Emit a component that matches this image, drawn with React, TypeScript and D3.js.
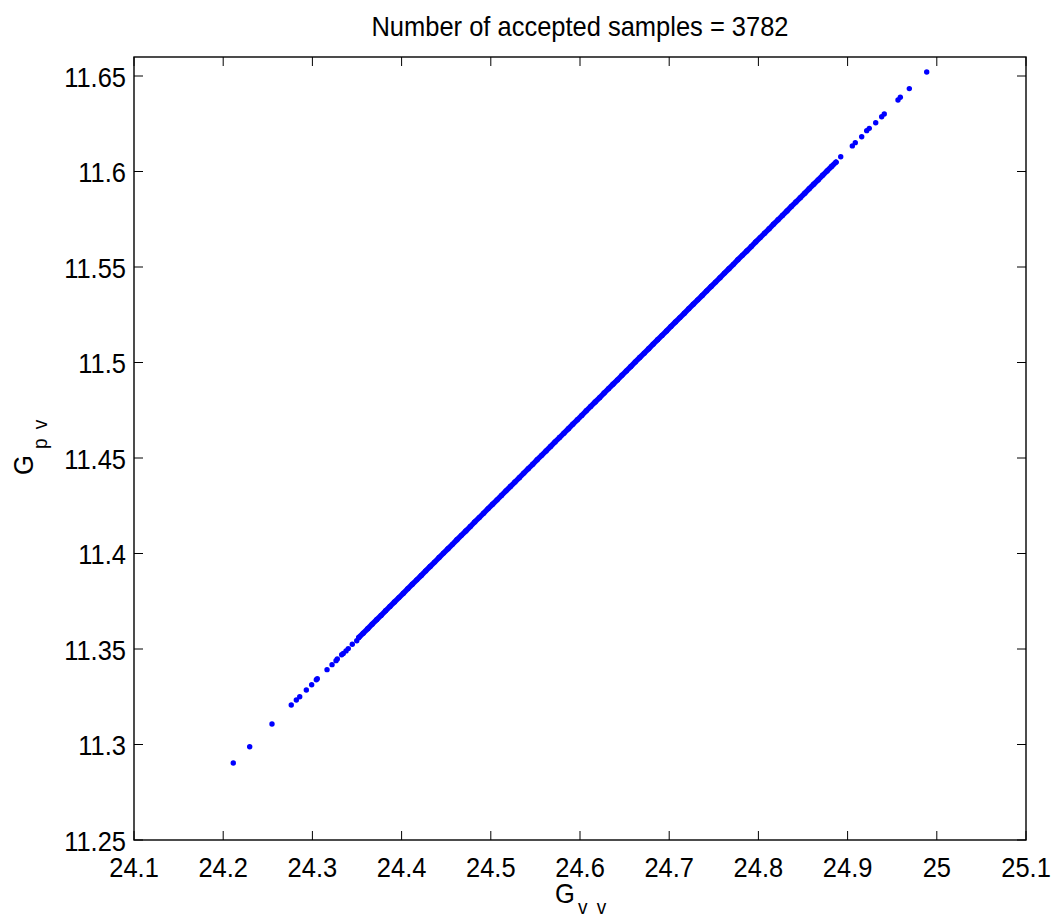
import React from "react";
import * as d3 from "d3";

const TITLE = "Number of accepted samples = 3782";
const xTicks = [24.1, 24.2, 24.3, 24.4, 24.5, 24.6, 24.7, 24.8, 24.9, 25, 25.1];
const xTickLabels = ["24.1", "24.2", "24.3", "24.4", "24.5", "24.6", "24.7", "24.8", "24.9", "25", "25.1"];
const yTicks = [11.25, 11.3, 11.35, 11.4, 11.45, 11.5, 11.55, 11.6, 11.65];
const yTickLabels = ["11.25", "11.3", "11.35", "11.4", "11.45", "11.5", "11.55", "11.6", "11.65"];

// sparse samples at the low end
const lowX = [24.2113, 24.2297, 24.2547, 24.2763, 24.282, 24.2858, 24.2932, 24.2992, 24.3044, 24.3055, 24.3164, 24.322, 24.3265, 24.3279, 24.3328, 24.3346, 24.3377, 24.3402, 24.3447, 24.3497];
const lowY = [11.2903, 11.2988, 11.3107, 11.3207, 11.3233, 11.325, 11.3285, 11.3313, 11.3339, 11.3344, 11.3392, 11.3418, 11.3439, 11.3448, 11.347, 11.3477, 11.349, 11.3502, 11.3525, 11.3543];

// dense band of samples
const denseX = [24.352, 24.357, 24.362, 24.367, 24.372, 24.377, 24.382, 24.387, 24.392, 24.397, 24.402, 24.407, 24.412, 24.417, 24.422, 24.427, 24.432, 24.437, 24.442, 24.447, 24.452, 24.457, 24.462, 24.467, 24.472, 24.477, 24.482, 24.487, 24.492, 24.497, 24.502, 24.507, 24.512, 24.517, 24.522, 24.527, 24.532, 24.537, 24.542, 24.547, 24.552, 24.557, 24.562, 24.567, 24.572, 24.577, 24.582, 24.587, 24.592, 24.597, 24.602, 24.607, 24.612, 24.617, 24.622, 24.627, 24.632, 24.637, 24.642, 24.647, 24.652, 24.657, 24.662, 24.667, 24.672, 24.677, 24.682, 24.687, 24.692, 24.697, 24.702, 24.707, 24.712, 24.717, 24.722, 24.727, 24.732, 24.737, 24.742, 24.747, 24.752, 24.757, 24.762, 24.767, 24.772, 24.777, 24.782, 24.787, 24.792, 24.797, 24.802, 24.807, 24.812, 24.817, 24.822, 24.827, 24.832, 24.837, 24.842, 24.847, 24.852, 24.857, 24.862, 24.867, 24.872, 24.877, 24.882, 24.887];
const denseY = [11.356, 11.3583, 11.3606, 11.363, 11.3653, 11.3676, 11.37, 11.3723, 11.3746, 11.3769, 11.3792, 11.3816, 11.3839, 11.3862, 11.3885, 11.3909, 11.3932, 11.3955, 11.3979, 11.4002, 11.4025, 11.4048, 11.4072, 11.4095, 11.4118, 11.4141, 11.4165, 11.4188, 11.4211, 11.4235, 11.4258, 11.4281, 11.4304, 11.4328, 11.4351, 11.4374, 11.4397, 11.4421, 11.4444, 11.4467, 11.4491, 11.4514, 11.4537, 11.456, 11.4584, 11.4607, 11.463, 11.4653, 11.4677, 11.47, 11.4723, 11.4747, 11.477, 11.4793, 11.4816, 11.484, 11.4863, 11.4886, 11.4909, 11.4933, 11.4956, 11.4979, 11.5003, 11.5026, 11.5049, 11.5072, 11.5096, 11.5119, 11.5142, 11.5165, 11.5189, 11.5212, 11.5235, 11.5258, 11.5282, 11.5305, 11.5328, 11.5351, 11.5375, 11.5398, 11.5421, 11.5444, 11.5468, 11.5491, 11.5514, 11.5538, 11.5561, 11.5584, 11.5607, 11.5631, 11.5654, 11.5677, 11.57, 11.5724, 11.5747, 11.577, 11.5793, 11.5817, 11.584, 11.5863, 11.5886, 11.591, 11.5933, 11.5956, 11.598, 11.6003, 11.6026, 11.6049];

// sparse samples at the high end
const highX = [24.8923, 24.9053, 24.9086, 24.9158, 24.9214, 24.9243, 24.9315, 24.9382, 24.9411, 24.9565, 24.9591, 24.9692, 24.9887];
const highY = [11.6077, 11.6134, 11.6151, 11.6182, 11.6214, 11.6226, 11.6255, 11.6287, 11.6301, 11.6374, 11.6389, 11.6434, 11.6521];

const W = 1054;
const H = 919;
const M = { left: 134, right: 1026, top: 57, bottom: 840 };
const FONT = "'Liberation Sans', Arial, Helvetica, sans-serif";
const BLUE = "#0000ff";
const SY = 1.08;

function Txt(props: { x: number; y: number; size: number; anchor?: string; rotate?: number; children: React.ReactNode; ls?: number }) {
  const { x, y, size, anchor, rotate, children, ls } = props;
  return (
    <text
      transform={`translate(${x},${y})${rotate ? ` rotate(${rotate})` : ""} scale(1,${SY})`}
      textAnchor={anchor || "start"}
      fontSize={size}
      letterSpacing={ls || 0}
      style={{ whiteSpace: "pre" }}
      fill="#000"
    >
      {children}
    </text>
  );
}

export default function App() {
  const x = d3.scaleLinear().domain([24.1, 25.1]).range([M.left, M.right]);
  const y = d3.scaleLinear().domain([11.25, 11.25 + (M.bottom - M.top) / 1910]).range([M.bottom, M.top]);

  const pts = [
    ...lowX.map((v, i) => [v, lowY[i]]),
    ...denseX.map((v, i) => [v, denseY[i]]),
    ...highX.map((v, i) => [v, highY[i]]),
  ];
  const densePts = denseX.map((v, i) => [v, denseY[i]] as [number, number]);
  const bandPath = d3.line<[number, number]>().x((d) => x(d[0])).y((d) => y(d[1]))(densePts) || "";
  const r = 2.7;
  const tickLen = 9;

  return (
    <svg width={W} height={H} style={{ position: "absolute", left: 0, top: 0, background: "#fff" }} fontFamily={FONT}>
      <rect x={0} y={0} width={W} height={H} fill="#fff" />
      {/* samples */}
      <path d={bandPath} fill="none" stroke={BLUE} strokeWidth={r * 2} strokeLinecap="round" />
      {pts.map((d, i) => (
        <circle key={i} cx={x(d[0])} cy={y(d[1])} r={r} fill={BLUE} />
      ))}
      {/* ticks */}
      {xTicks.map((t, i) => (
        <g key={"xt" + i}>
          <line x1={x(t)} x2={x(t)} y1={M.bottom} y2={M.bottom - tickLen} stroke="#000" strokeWidth={1} />
          <line x1={x(t)} x2={x(t)} y1={M.top} y2={M.top + tickLen} stroke="#000" strokeWidth={1} />
          <Txt x={x(t)} y={876.5} size={25.5} anchor="middle">{xTickLabels[i]}</Txt>
        </g>
      ))}
      {yTicks.map((t, i) => (
        <g key={"yt" + i}>
          <line x1={M.left} x2={M.left + tickLen} y1={y(t)} y2={y(t)} stroke="#000" strokeWidth={1} />
          <line x1={M.right} x2={M.right - tickLen} y1={y(t)} y2={y(t)} stroke="#000" strokeWidth={1} />
          <Txt x={126} y={y(t) + 10.5} size={25.5} anchor="end">{yTickLabels[i]}</Txt>
        </g>
      ))}
      {/* box */}
      <rect x={M.left} y={M.top} width={M.right - M.left} height={M.bottom - M.top} fill="none" stroke="#000" strokeWidth={1.4} />
      {/* title */}
      <Txt x={(M.left + M.right) / 2} y={36} size={25.5} anchor="middle">{TITLE}</Txt>
      {/* x label */}
      <Txt x={555} y={903} size={25.5}>G</Txt>
      <Txt x={578} y={914} size={19} ls={2}>v v</Txt>
      {/* y label */}
      <Txt x={33} y={475} size={25.5} rotate={-90}>G</Txt>
      <Txt x={47} y={449} size={19} ls={2} rotate={-90}>p v</Txt>
    </svg>
  );
}
